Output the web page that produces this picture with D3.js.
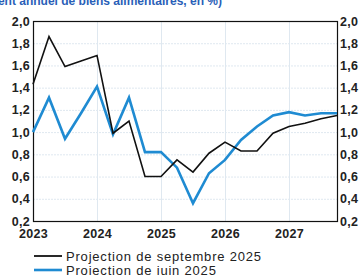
<!DOCTYPE html>
<html>
<head>
<meta charset="utf-8">
<script src="https://cdn.jsdelivr.net/npm/d3@7"></script>
<style>
  body { margin: 0; background: #fff; }
  svg { display: block; font-family: "Liberation Sans", Arial, sans-serif; }
</style>
</head>
<body>
<div id="chart"></div>
<script>
(function() {
  var quarters, septembre, juin, yTicks, xTicks, width, height, svg, x, y, fmt, line, plot;

  quarters = ['2023T1', '2023T2', '2023T3', '2023T4', '2024T1', '2024T2', '2024T3', '2024T4',
              '2025T1', '2025T2', '2025T3', '2025T4', '2026T1', '2026T2', '2026T3', '2026T4',
              '2027T1', '2027T2', '2027T3', '2027T4'];

  septembre = [1.43, 1.86, 1.59, 1.64, 1.69, 0.99, 1.10, 0.60, 0.60, 0.75,
               0.64, 0.81, 0.91, 0.83, 0.83, 0.99, 1.05, 1.08, 1.12, 1.15];

  juin = [1.00, 1.31, 0.94, 1.17, 1.41, 0.98, 1.31, 0.82, 0.82, 0.68,
          0.36, 0.63, 0.75, 0.93, 1.05, 1.15, 1.18, 1.15, 1.17, 1.17];

  yTicks = [0.2, 0.4, 0.6, 0.8, 1.0, 1.2, 1.4, 1.6, 1.8, 2.0];

  xTicks = [2023, 2024, 2025, 2026, 2027];

  width = 361;
  height = 275;

  var toX = function(q) {
    return +q.slice(0, 4) + (+q.slice(5) - 1) / 4;
  };

  fmt = function(d) {
    return d3.format('.1f')(d).replace('.', ',');
  };

  svg = d3.select('#chart').append('svg').attr('width', width).attr('height', height);

  x = d3.scaleLinear().domain([2023, 2027.75]).range([33, 337]);
  y = d3.scaleLinear().domain([0.2, 2.0]).range([221, 21]);

  // titre coupé en haut
  svg.append('text')
    .attr('x', 222).attr('y', 5)
    .attr('text-anchor', 'end')
    .attr('font-size', 12)
    .attr('font-weight', 'bold')
    .attr('fill', '#2a5fb8')
    .text('(glissement annuel de biens alimentaires, en %)');

  // grille
  svg.append('g').selectAll('line').data(yTicks.slice(1, -1)).enter().append('line')
    .attr('x1', x.range()[0]).attr('x2', x.range()[1])
    .attr('y1', function(d) { return y(d) + 0.5; })
    .attr('y2', function(d) { return y(d) + 0.5; })
    .attr('stroke', '#dfe8f0').attr('stroke-width', 1)
    .attr('stroke-dasharray', '2,1');

  svg.append('g').selectAll('line').data(xTicks.slice(1)).enter().append('line')
    .attr('x1', function(d) { return x(d) + 0.5; })
    .attr('x2', function(d) { return x(d) + 0.5; })
    .attr('y1', y.range()[1]).attr('y2', y.range()[0])
    .attr('stroke', '#dfe8f0').attr('stroke-width', 1);

  // axes
  var left = d3.axisLeft(y).tickValues(yTicks).tickFormat(fmt).tickSize(0).tickPadding(3);
  var right = d3.axisRight(y).tickValues(yTicks).tickFormat(fmt).tickSize(0).tickPadding(3);
  var bottom = d3.axisBottom(x).tickValues(xTicks).tickFormat(d3.format('d')).tickSize(0).tickPadding(8);

  [
    svg.append('g').attr('transform', 'translate(' + x.range()[0] + ',0)').call(left),
    svg.append('g').attr('transform', 'translate(' + x.range()[1] + ',0)').call(right),
    svg.append('g').attr('transform', 'translate(0,' + y.range()[0] + ')').call(bottom)
  ].forEach(function(g) {
    g.select('.domain').remove();
    g.selectAll('text')
      .attr('font-size', 12.5)
      .attr('font-family', '"Liberation Sans", Arial, sans-serif')
      .attr('font-weight', 'bold')
      .attr('letter-spacing', 0.3)
      .attr('fill', '#222');
  });

  // cadre
  svg.append('rect')
    .attr('x', x.range()[0] + 0.5).attr('y', y.range()[1] + 0.5)
    .attr('width', x.range()[1] - x.range()[0])
    .attr('height', y.range()[0] - y.range()[1])
    .attr('fill', 'none').attr('stroke', '#111').attr('stroke-width', 1.2);

  line = d3.line()
    .x(function(d, i) { return x(toX(quarters[i])); })
    .y(function(d) { return y(d); });

  plot = svg.append('g');

  plot.append('path').datum(juin)
    .attr('d', line).attr('fill', 'none')
    .attr('stroke', '#1f8bd2').attr('stroke-width', 2.6)
    .attr('stroke-linejoin', 'miter');

  plot.append('path').datum(septembre)
    .attr('d', line).attr('fill', 'none')
    .attr('stroke', '#111').attr('stroke-width', 1.6)
    .attr('stroke-linejoin', 'miter');

  // légende
  var legend = [
    { label: 'Projection de septembre 2025', color: '#111', w: 1.8, yy: 256 },
    { label: 'Projection de juin 2025', color: '#1f8bd2', w: 2.6, yy: 270 }
  ];

  var lg = svg.append('g').selectAll('g').data(legend).enter().append('g');
  lg.append('line')
    .attr('x1', 34).attr('x2', 62)
    .attr('y1', function(d) { return d.yy; })
    .attr('y2', function(d) { return d.yy; })
    .attr('stroke', function(d) { return d.color; })
    .attr('stroke-width', function(d) { return d.w; });
  lg.append('text')
    .attr('x', 66).attr('y', function(d) { return d.yy + 4.5; })
    .attr('font-size', 13)
    .attr('letter-spacing', 0.8)
    .attr('fill', '#222')
    .text(function(d) { return d.label; });

}).call(this);
</script>
</body>
</html>
